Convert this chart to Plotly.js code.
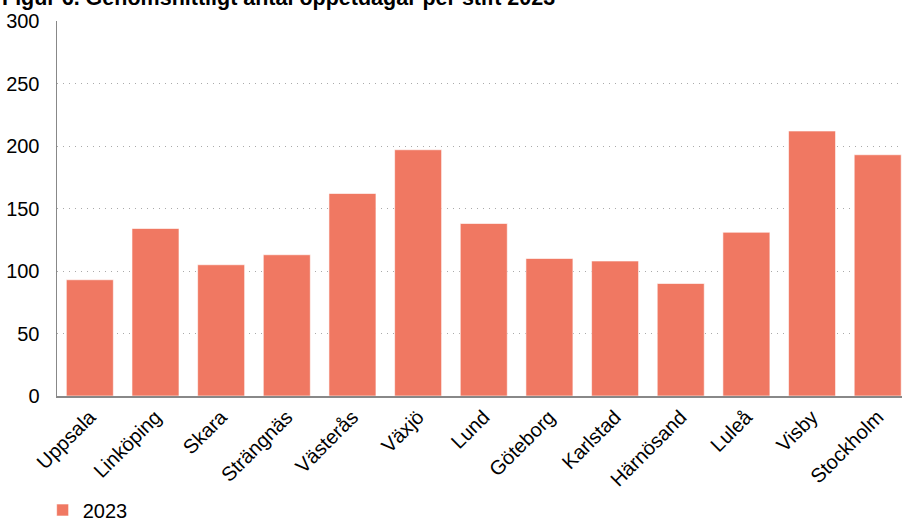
<!DOCTYPE html>
<html>
<head>
<meta charset="utf-8">
<script src="https://cdn.plot.ly/plotly-3.0.1.min.js"></script>
<style>html,body{margin:0;padding:0;background:#fff;}#chart{width:902px;height:518px;}</style>
</head>
<body>
<div id="chart"></div>
<script>
const categories = ["Uppsala","Linköping","Skara","Strängnäs","Västerås","Växjö","Lund","Göteborg","Karlstad","Härnösand","Luleå","Visby","Stockholm"];
const values2023 = [93,134,105,113,162,197,138,110,108,90,131,212,193];
const yTicks = [0,50,100,150,200,250,300];
const seriesName = "2023";
const chartTitle = 'Figur 6. Genomsnittligt antal öppetdagar per stift 2023';

const trace = {
  type: 'bar',
  x: categories,
  y: values2023,
  name: seriesName,
  marker: {color: '#F07862', line: {color: 'rgba(255,255,255,0.6)', width: 1}},
  showlegend: true,
  hoverinfo: 'x+y'
};

const layout = {
  width: 902, height: 518,
  margin: {l: 57, r: 0, t: 21, b: 122, pad: 0, autoexpand: false},
  paper_bgcolor: '#fff', plot_bgcolor: '#fff',
  font: {family: 'Liberation Sans, Arial, sans-serif', size: 20, color: '#000'},
  annotations: [{
    text: '<b>' + chartTitle + '</b>',
    xref: 'paper', yref: 'paper',
    x: -0.0675, xanchor: 'left',
    y: 1.062, yanchor: 'middle',
    showarrow: false,
    font: {family: 'Liberation Sans, Arial, sans-serif', size: 21.5, color: '#000'}
  }],
  bargap: 0.284,
  xaxis: {
    type: 'category',
    range: [-0.5, 12.37],
    tickangle: -45,
    showline: true, linecolor: '#888', linewidth: 1.5,
    showgrid: false, ticks: '', zeroline: false,
    tickfont: {size: 20, color: '#000'}
  },
  yaxis: {
    range: [0, 300],
    tickvals: yTicks,
    ticktext: yTicks.map(String),
    showline: true, linecolor: '#888', linewidth: 1.5,
    showgrid: true, gridcolor: '#aaa', griddash: '1px,5px', gridwidth: 1,
    zeroline: false, ticks: '',
    ticklabelstandoff: 12,
    tickfont: {size: 20, color: '#000'}
  },
  legend: {
    orientation: 'h',
    x: -0.017, xanchor: 'left', xref: 'paper',
    y: -0.304, yanchor: 'middle', yref: 'paper',
    font: {size: 20, color: '#000'},
    bgcolor: 'rgba(0,0,0,0)'
  }
};

Plotly.newPlot('chart', [trace], layout, {displayModeBar: false, staticPlot: true});
</script>
</body>
</html>
